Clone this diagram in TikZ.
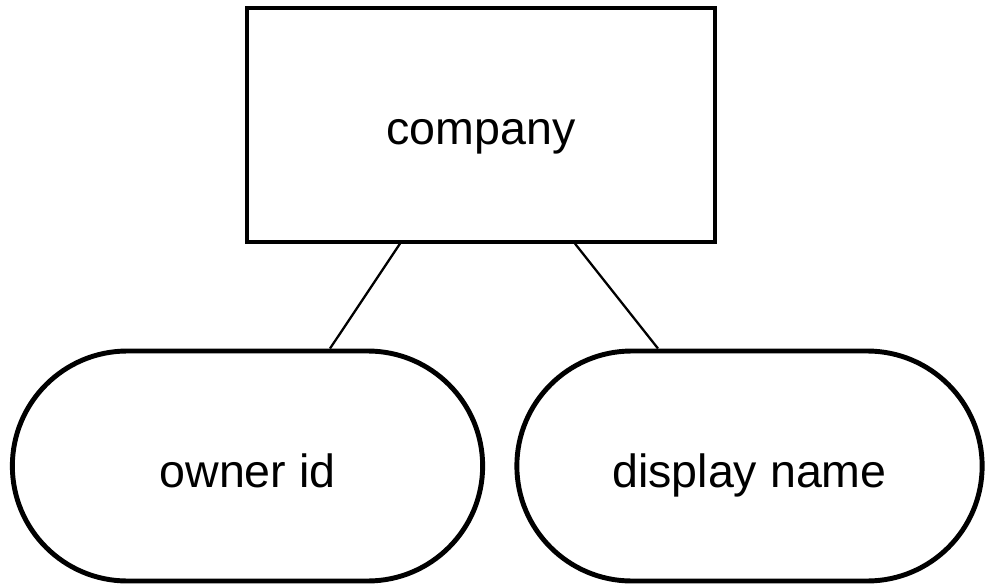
\documentclass[tikz,border=0pt]{standalone}
\usepackage{fontspec}
\setmainfont{Liberation Sans}
\usetikzlibrary{positioning,calc,shapes.misc}

\begin{document}
\begin{tikzpicture}[
    entity/.style={draw, rectangle, minimum width=9.36cm, minimum height=4.68cm, line width=1.9pt, text height=0.9cm, text depth=0.1cm, font=\fontsize{26.5}{30}\selectfont},
    attrib/.style={draw, rounded rectangle, minimum height=4.60cm, line width=2.8pt, text height=0.94cm, text depth=0.1cm, font=\fontsize{26.5}{30}\selectfont},
    link/.style={line width=1.3pt, black},
]
\useasboundingbox (0,0) rectangle (19.7,-11.76);

% Entity
\node[entity] (company) at (9.62,-2.50) {company};

% Attributes
\node[attrib, minimum width=9.64cm] (owner) at (4.95,-9.32) {owner id};
\node[attrib, minimum width=9.54cm] (display) at (14.99,-9.32) {display name};

% Links
\coordinate (c1) at ($(company.south)+(-1.62,0)$);
\coordinate (c2) at ($(company.south)+(1.88,0)$);
\coordinate (o1) at ($(owner.north)+(1.65,0)$);
\coordinate (d1) at ($(display.north)+(-1.83,0)$);
\draw[link] (c1) -- (o1);
\draw[link] (c2) -- (d1);
\end{tikzpicture}
\end{document}
